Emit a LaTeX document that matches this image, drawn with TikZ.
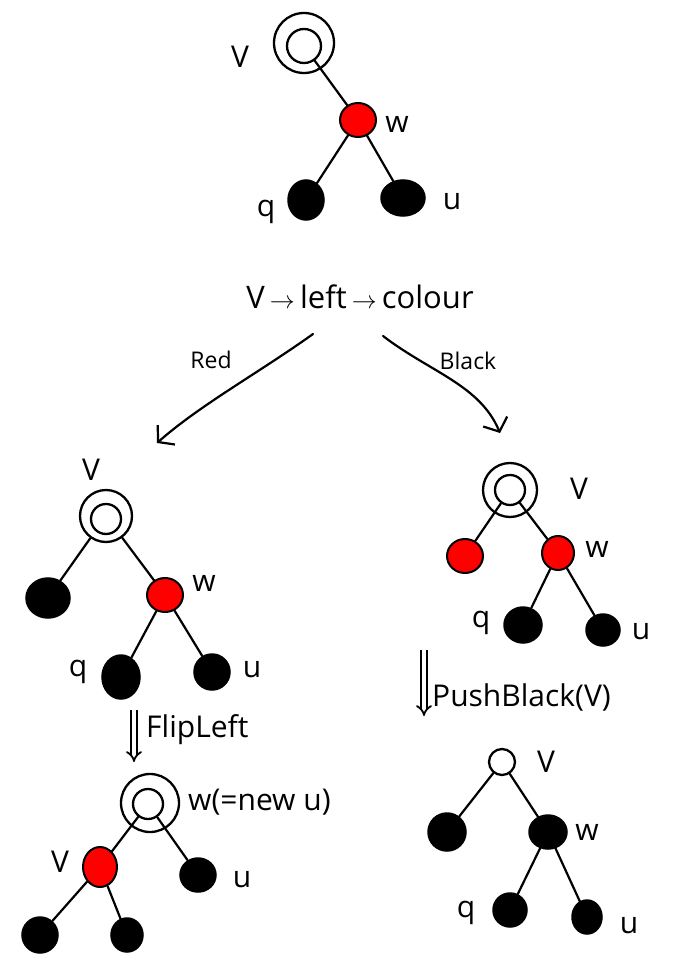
\documentclass[tikz,border=0pt]{standalone}
\usepackage{fontspec}
\setmainfont{Open Sans}
\usetikzlibrary{shapes.geometric,arrows.meta}
\tikzset{
  ln/.style={line width=2.2pt, line cap=round},
  blk/.style={ellipse, fill=black, draw=black, line width=1.5pt, inner sep=0pt},
  rd/.style={ellipse, fill=red, draw=black, line width=2pt, inner sep=0pt},
  ring/.style={circle, draw=black, line width=2.3pt, inner sep=0pt},
  lbl/.style={font=\fontsize{30}{34}\selectfont, inner sep=0pt},
  dbl/.style={line width=1.8pt, double, double distance=3.5pt, -{Implies[length=9pt]}},
  barb/.style={line width=2.2pt, line cap=round, -{Straight Barb[length=11pt,width=26pt,line width=2.2pt]}}
}
\begin{document}
\begin{tikzpicture}[x=1pt,y=-1pt]
\useasboundingbox (0,0) rectangle (679,960);
% ---------- Tree 1 ----------
\node[ring, minimum size=60pt] (t1v) at (304,43) {};
\node[ring, minimum size=34pt] (t1vi) at (304,46) {};
\node[rd, minimum width=36pt, minimum height=34pt] (t1w) at (358,120) {};
\node[blk, minimum width=36pt, minimum height=40pt] (t1q) at (306,200) {};
\node[blk, minimum width=44pt, minimum height=36pt] (t1u) at (403,198) {};
\draw[ln] (t1vi) -- (t1w);
\draw[ln] (t1w) -- (t1q);
\draw[ln] (t1w) -- (t1u);
\node[lbl] (t1vl) at (240,57) {V};
\node[lbl] (t1wl) at (397,124) {w};
\node[lbl] (t1ql) at (266,212) {q};
\node[lbl] (t1ul) at (452,202) {u};
% ---------- question ----------
\node[lbl, font=\fontsize{31}{36}\selectfont] (qq) at (360,297) {V\,$\rightarrow$\,left\,$\rightarrow$\,colour};
\coordinate (rs) at (313,334);
\coordinate (re) at (157,443);
\coordinate (bs) at (383,336);
\coordinate (be) at (500,433);
\draw[barb] (rs) .. controls (260,372) and (200,405) .. (re);
\draw[barb] (bs) .. controls (430,372) and (480,385) .. (be);
\node[lbl, font=\fontsize{23}{26}\selectfont] (redl) at (211,360) {Red};
\node[lbl, font=\fontsize{23}{26}\selectfont] (blackl) at (468,361) {Black};
% ---------- Tree 2 (left) ----------
\node[ring, minimum size=52pt] (t2v) at (106,516) {};
\node[ring, minimum size=30pt] (t2vi) at (106,519) {};
\node[blk, minimum width=44pt, minimum height=40pt] (t2a) at (48,598) {};
\node[rd, minimum width=36pt, minimum height=34pt] (t2w) at (165,595) {};
\node[blk, minimum width=38pt, minimum height=44pt] (t2q) at (121,677) {};
\node[blk, minimum width=36pt, minimum height=36pt] (t2u) at (212,672) {};
\draw[ln] (t2v) -- (t2a);
\draw[ln] (t2v) -- (t2w);
\draw[ln] (t2w) -- (t2q);
\draw[ln] (t2w) -- (t2u);
\node[lbl] (t2vl) at (91,470) {V};
\node[lbl] (t2wl) at (204,583) {w};
\node[lbl] (t2ql) at (78,672) {q};
\node[lbl] (t2ul) at (252,670) {u};
% FlipLeft
\coordinate (f1) at (134,710);
\coordinate (f2) at (134,762);
\draw[dbl] (f1) -- (f2);
\node[lbl, anchor=west] (flip) at (146,730) {FlipLeft};
% ---------- Tree 3 (bottom left) ----------
\node[ring, minimum size=58pt] (t3w) at (150,803) {};
\node[ring, minimum size=30pt] (t3wi) at (148,804) {};
\node[rd, minimum width=34pt, minimum height=40pt] (t3v) at (100,867) {};
\node[blk, minimum width=36pt, minimum height=34pt] (t3u) at (198,875) {};
\node[blk, minimum width=36pt, minimum height=36pt] (t3a) at (40,935) {};
\node[blk, minimum width=32pt, minimum height=34pt] (t3b) at (127,935) {};
\draw[ln] (t3wi) -- (t3v);
\draw[ln] (t3wi) -- (t3u);
\draw[ln] (t3v) -- (t3a);
\draw[ln] (t3v) -- (t3b);
\node[lbl, anchor=west] (t3wl) at (188,802) {w(=new u)};
\node[lbl] (t3vl) at (60,862) {V};
\node[lbl] (t3ul) at (242,880) {u};
% ---------- Tree 4 (right top) ----------
\node[ring, minimum size=54pt] (t4v) at (510,490) {};
\node[ring, minimum size=30pt] (t4vi) at (510,490) {};
\node[rd, minimum width=36pt, minimum height=34pt] (t4a) at (465,556) {};
\node[rd, minimum width=32pt, minimum height=34pt] (t4w) at (558,553) {};
\node[blk, minimum width=38pt, minimum height=36pt] (t4q) at (523,625) {};
\node[blk, minimum width=34pt, minimum height=32pt] (t4u) at (603,630) {};
\draw[ln] (t4vi) -- (t4a);
\draw[ln] (t4vi) -- (t4w);
\draw[ln] (t4w) -- (t4q);
\draw[ln] (t4w) -- (t4u);
\node[lbl] (t4vl) at (579,489) {V};
\node[lbl] (t4wl) at (597,549) {w};
\node[lbl] (t4ql) at (481,623) {q};
\node[lbl] (t4ul) at (641,632) {u};
% PushBlack
\coordinate (p1) at (424,650);
\coordinate (p2) at (424,716);
\draw[dbl] (p1) -- (p2);
\node[lbl, anchor=west] (push) at (432,697) {PushBlack(V)};
% ---------- Tree 5 (bottom right) ----------
\node[ring, minimum size=26pt] (t5v) at (502,762) {};
\node[blk, minimum width=38pt, minimum height=38pt] (t5a) at (447,832) {};
\node[blk, minimum width=38pt, minimum height=34pt] (t5w) at (548,832) {};
\node[blk, minimum width=34pt, minimum height=34pt] (t5q) at (510,910) {};
\node[blk, minimum width=30pt, minimum height=34pt] (t5u) at (587,917) {};
\draw[ln] (t5v) -- (t5a);
\draw[ln] (t5v) -- (t5w);
\draw[ln] (t5w) -- (t5q);
\draw[ln] (t5w) -- (t5u);
\node[lbl] (t5vl) at (546,762) {V};
\node[lbl] (t5wl) at (587,832) {w};
\node[lbl] (t5ql) at (466,913) {q};
\node[lbl] (t5ul) at (629,926) {u};
\end{tikzpicture}
\end{document}
